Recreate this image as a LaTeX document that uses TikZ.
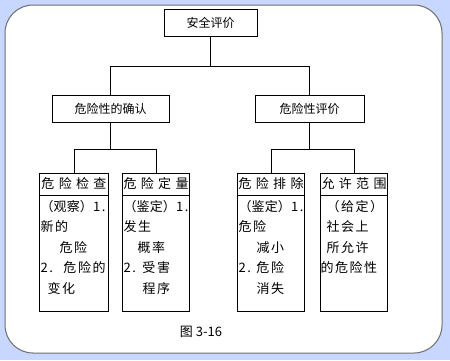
\documentclass[tikz,border=0pt]{standalone}
\usepackage{fontspec}
\newfontfamily\cjk{Noto Sans CJK SC}
\newfontfamily\cjkwide[LetterSpace=12]{Noto Sans CJK SC}
\usetikzlibrary{calc}
\definecolor{panelbg}{RGB}{200,215,255}
\definecolor{panelrim}{RGB}{110,110,110}
\tikzset{
  box/.style={draw,minimum height=27pt,inner sep=0pt,font=\cjk\fontsize{12}{12}\selectfont},
  tallbox/.style={draw,anchor=north west,minimum width=#1,minimum height=138pt,inner sep=0pt},
  titlebox/.style={anchor=north,minimum height=21pt,inner sep=0pt,text width=65pt,font=\cjkwide\fontsize{13}{13}\selectfont},
  body/.style={anchor=base west,inner sep=0pt,text width=66pt,align=left,font=\cjkwide\fontsize{13}{20.5}\selectfont}
}
\begin{document}
\begin{tikzpicture}[x=1pt,y=-1pt,line width=1pt]
\fill[panelbg] (0,0) rectangle (450,360);
\draw[panelrim,fill=white,rounded corners=28pt] (5,5) rectangle (442,353);
\node[box,minimum width=93pt] (top) at (210.5,22.5) {安全评价};
\node[box,minimum width=117pt] (find) at (110.5,108.5) {危险性的确认};
\node[box,minimum width=109pt] (judge) at (309.5,108.5) {危险性评价};
\coordinate (J) at ($(top.south)+(0,30)$);
\draw (top.south) -- (J) -| (find.north);
\draw (J) -| (judge.north);
\node[tallbox=69pt] (check) at (39,173) {};
\node[tallbox=67pt] (grade) at (122,173) {};
\node[tallbox=67pt] (remove) at (237,173) {};
\node[tallbox=67pt] (allow) at (320,173) {};
\coordinate (J1) at ($(find.south)+(0,27)$);
\coordinate (J2) at ($(judge.south)+(0,27)$);
\draw (find.south) -- (J1) -| (check.north);
\draw (J1) -| (grade.north);
\draw (judge.south) -- (J2) -| (remove.north);
\draw (J2) -| (allow.north);
\foreach \b/\t in {check/危\hfill 险\hfill 检\hfill 查, grade/危\hfill 险\hfill 定\hfill 量,
                   remove/危\hfill 险\hfill 排\hfill 除, allow/允\hfill 许\hfill 范\hfill 围}{
  \node[titlebox] (\b-t) at (\b.north) {\t};
  \draw (\b.west |- \b-t.south) -- (\b.east |- \b-t.south);
}
\node[body] (check-b) at ($(check.west |- check-t.south)+(1,16)$)
  {\makebox[65pt][l]{（\hfill 观\hfill 察\hfill ）\hfill 1.}\\新的\\\hspace*{19pt}危险\\\makebox[23pt][l]{2.}危险的\\\hspace*{7pt}变化};
\node[body] (grade-b) at ($(grade.west |- grade-t.south)+(1,16)$)
  {\makebox[65pt][l]{（\hfill 鉴\hfill 定\hfill ）\hfill 1.}\\发生\\\hspace*{14pt}概率\\\makebox[19pt][l]{2.}受害\\\hspace*{19pt}程序};
\node[body] (remove-b) at ($(remove.west |- remove-t.south)+(1,16)$)
  {\makebox[65pt][l]{（\hfill 鉴\hfill 定\hfill ）\hfill 1.}\\危险\\\hspace*{18pt}减小\\\makebox[18pt][l]{2.}危险\\\hspace*{18pt}消失};
\node[body] (allow-b) at ($(allow.west |- allow-t.south)+(0,16)$)
  {\hspace*{6pt}（给定）\\\hspace*{6pt}社会上\\\hspace*{6pt}所允许\\的危险性};
\node[font=\cjk\fontsize{13}{13}\selectfont] (fig) at (201,332) {图 3-16};
\end{tikzpicture}
\end{document}
